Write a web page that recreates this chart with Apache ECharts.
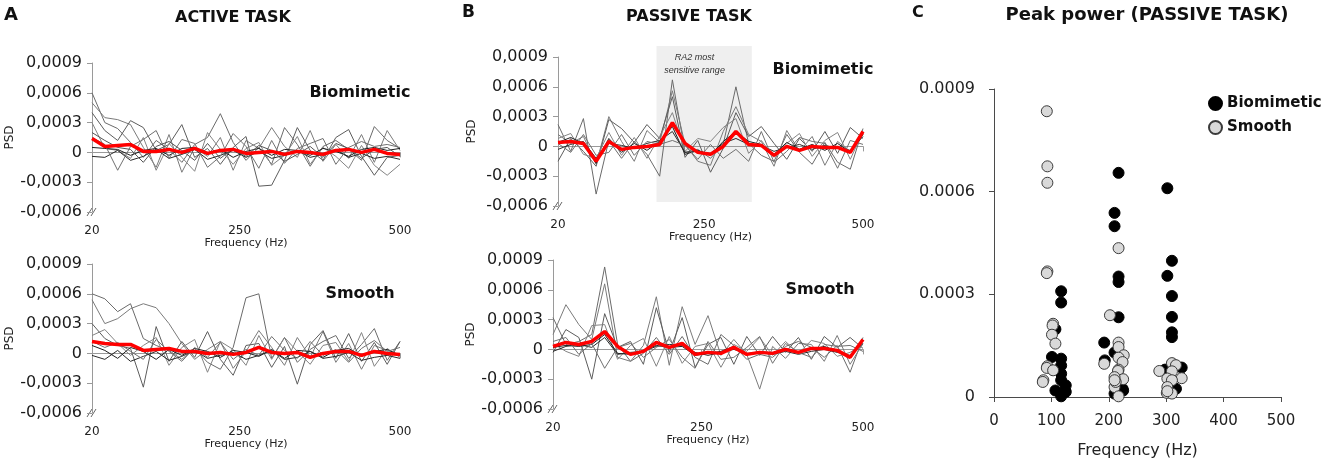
<!doctype html>
<html>
<head>
<meta charset="UTF-8">
<title>PSD active / passive task</title>
<script src="https://cdn.jsdelivr.net/npm/echarts@6/dist/echarts.min.js"></script>
<style>
	html, body { margin: 0; padding: 0; background: #fff; }
	#main { width: 1325px; height: 465px; }
</style>
</head>
<body>
<div id="main"></div>
<script>
	// frequency bins (Hz) shared by the four PSD panels
	var freqHz = [20, 40, 60, 80, 100, 120, 140, 160, 180, 200, 220, 240, 260, 280, 300, 320, 340, 360, 380, 400, 420, 440, 460, 480, 500];

	// all PSD / peak power values are in units of 1e-4
	var activeBioTrials = [
		[6, 3, 2.4, 1, -0.5, 1.2, 0.3, -1, 0.8, 1.5, 3.9, 1, -0.8, 0.5, -1.2, 2.5, 0.8, -1.4, 0.6, 1.2, 0.3, -0.8, 2.6, 1.2, 0.4],
		[5, 3.5, 3.3, 2.8, 0.5, -1.5, 1.8, -2, 0.5, -0.4, 1.5, -1.8, 1.2, 0.4, 2.5, 0.6, -0.5, 2.2, -0.9, 0.8, -0.6, 1.8, -1, 2.2, 0.2],
		[4, 2.2, 1.2, 3.2, 2.5, 0.2, 0.8, 2.8, -0.5, 0.4, -1.2, 0.5, 1.6, -3.4, -3.3, -0.8, 2.5, 0.2, -0.8, 1.5, 2.3, -0.4, -2.3, -0.5, -0.3],
		[3, 0.4, 0.2, -0.6, 1.5, -1.8, 0.9, -0.5, -1.9, 2, 0.3, -1.2, 0.4, 1, -1.3, -0.3, 1.6, -1.2, 0.5, -0.4, -1.6, 0.7, -1.3, -2.3, -1.2],
		[0.5, 0.4, 0.3, -0.3, 0.2, 0.4, -0.3, 0.4, 0.5, -0.2, 0.3, -0.5, 0.1, 0.4, -0.3, 0.3, 0.2, -0.3, 0.4, 0.1, -0.4, 0.3, 0.5, 0.2, 0.4],
		[-0.4, -0.5, 0.2, -0.8, -0.4, 0.3, -0.6, -0.2, 0.3, -0.7, -0.3, 0.2, -0.5, 0.1, -0.6, -0.3, 0.2, -0.5, -0.2, 0.3, -0.5, -0.1, -0.6, -0.4, -0.7],
		[1.5, 0.8, -1.8, 0.6, 1.3, 2.2, -0.6, 1.3, 0.9, -1.5, -0.4, 1.9, 0.6, -1.6, 1.2, -1.1, 0.4, 0.9, 1.4, -1.2, 0.5, 1.1, 0.6, 0.8, 0.5],
		[2, 1.2, 0.5, 0.3, -1, 0.6, 1.1, 0.2, -0.8, 0.9, -0.6, 0.4, -0.4, 0.7, 0.2, -0.9, -0.2, 0.6, -0.5, 0.9, 0.4, -0.6, 0.3, 0.5, -0.4]
	];
	var activeBioMean = [1.4, 0.6, 0.7, 0.8, 0.1, 0.1, 0.3, 0, 0.4, -0.1, 0.2, 0.3, -0.1, 0, 0.1, -0.2, 0.1, 0, -0.2, 0.2, 0.3, 0, 0.3, -0.1, -0.2];

	var activeSmoothTrials = [
		[6, 5.5, 4.2, 5, 1.5, 0.8, 0.3, -0.6, 0.5, -0.9, -1.6, 0.6, 5.6, 6, -0.5, 1.6, -0.9, 0.4, 1.2, 1.8, -0.5, 0.9, 2.5, -0.7, 1.2],
		[5.4, 3, 3.5, 4.5, 5, 4.6, 3, 1, -0.6, 0.4, 1.2, -1.5, 0.2, 2.3, 0.6, -1.2, 1.6, -0.4, 2.2, -0.9, 1, -1.6, 0.8, 0.3, -0.2],
		[3, 1.5, 0.8, 0.5, -3.4, 2.7, -0.8, 1.2, -0.4, 2.2, -0.6, -2.2, 0.8, 1, -1.4, 0.7, -3.1, 0.9, 2.3, -0.5, 2, -0.8, 1.1, -1.1, 1.2],
		[1.8, 2.4, 1, -0.2, 0.8, 1.6, -1.2, 0.6, 1.4, -1.9, 1.2, 0.4, -1.2, 1.8, -0.6, 1.6, 0.2, -1.1, 0.8, 1.1, -0.8, 2.1, -1.3, 0.5, -0.4],
		[0.8, 0.3, -0.5, 0.6, 0.2, -0.6, 0.4, -0.2, 0.5, 0.2, -0.4, 0.3, 0.1, -0.3, 0.4, -0.5, 0.3, 0.2, -0.4, 0.3, 0.5, -0.3, 0.2, 0.4, -0.2],
		[-0.2, -0.6, 0.3, -0.8, -0.3, 0.2, -0.7, -0.3, 0.3, -0.5, -0.2, 0.1, -0.6, -0.2, 0.3, -0.6, -0.4, 0.2, -0.5, -0.3, 0.1, -0.7, -0.4, -0.2, -0.5],
		[1.2, 0.6, 1.1, 0.2, -0.6, 1.4, 0.2, -0.8, 0.6, -0.4, 1.1, -0.6, 0.4, -0.2, 1.7, 0.3, -0.5, 1.2, -0.2, 0.4, -0.9, 0.5, 1.3, 0.2, 0.6]
	];
	var activeSmoothMean = [1.2, 1, 0.9, 0.9, 0.3, 0.4, 0.5, 0.2, 0.2, 0, 0.1, -0.1, 0.1, 0.6, 0.1, 0, 0.1, -0.4, 0, 0.2, 0.2, -0.2, 0.2, 0, -0.1];

	var passiveBioTrials = [
		[2.2, -0.5, 2.8, -4.8, 0.6, -1.2, 0.5, -0.8, -3, 6.7, -0.6, -0.3, -1.2, 0.2, 6, 0.3, -0.9, -1.5, 1.2, -0.6, -1.8, 0.4, -1.6, -2.3, 1.8],
		[1.2, 0.3, 1, -1.8, 3, 0.5, -1.5, 1.6, 0.4, 5.6, 0.2, -1.5, -1.9, 1.5, 4, 1.2, 0.5, -2, 1.6, -0.5, 1, -1.9, 0.5, -0.5, 1.2],
		[-1.5, 0.8, -0.5, -2, 2.7, 1.8, 0.4, 2.2, 0.8, 5, -1.1, 0.6, -2.6, -0.2, 3.4, 1, 2, 0.3, -1.3, 0.8, -0.5, 1.5, -0.7, 1.9, 0.8],
		[0.8, 1.3, -0.8, -1.2, 1.4, -0.9, 0.9, -1.2, 1, 3.4, -0.5, 0.8, 0.5, 1.9, 2.8, -0.7, 0.6, -1.1, 0.3, 1.3, -1, 0.6, 1.4, -1.3, 1.5],
		[0.4, 0.9, 0.3, -1.7, 0.8, -0.6, 0.3, -0.4, 0.5, 2, -0.8, -0.4, -0.9, 0.5, 1.5, 0.5, 0.2, -0.8, 0.4, -0.3, 0.2, -0.4, 0.3, -0.6, 1.2],
		[-0.3, 0.2, 0.5, -1.2, 0.3, 0.1, -0.2, 0.3, 0.6, 1.5, -0.6, -0.5, -0.7, 0.3, 0.8, 0.2, 0.1, -0.5, -0.1, 0.2, -0.3, 0.1, -0.2, -0.4, 1],
		[0.3, -0.6, 1.2, -0.9, -0.6, 1.2, -0.9, 0.5, 0.2, 0.6, 0.1, -1.3, 0.2, -1.2, -0.3, -1.5, 1.5, -1.6, -0.5, 0.9, 0.5, 0.3, -2.2, 0.6, 0.2]
	];
	var passiveBioMean = [0.4, 0.5, 0.3, -1.5, 0.5, -0.3, -0.1, 0, 0.2, 2.4, 0.3, -0.6, -0.8, 0, 1.5, 0.2, 0.1, -0.9, 0, -0.4, 0, -0.1, -0.1, -0.6, 1.5];

	var passiveSmoothTrials = [
		[3.2, 0.5, 0.8, 1.5, 8.3, 0.5, -1.2, -0.4, 1.2, -0.5, 1.3, -0.8, -1.5, 1.5, 0.4, -1, -0.5, -0.8, 0.3, 0.8, 0.2, -0.8, 0.4, -2.3, 1.2],
		[1.5, 4.5, 2.5, 1, 6.6, -0.8, -1.2, 0.4, 5.3, -1.6, 4.3, 0.5, 3.4, -0.6, 1, -0.5, -4, 0.3, -0.9, 0.6, 0.5, -1.2, 1.4, -1.5, 0.6],
		[-0.3, 2, 1.2, -3, 3.6, 0.2, 0.8, -1.5, 4.2, -0.3, 3.2, -1.8, 0.5, 1.2, -1.5, 1.3, -0.6, 1.3, -0.3, 1.2, -1, 1.3, 0.2, 1.2, 0.1],
		[0.6, -0.2, -0.7, 2.4, 2.5, -1, 0.4, 1.1, -1.7, 1.3, -1.4, 0.3, 0.6, -1.8, 0.5, -0.2, 1.2, -0.6, 0.8, -0.4, 0.9, 0.6, -0.7, -0.3, 0.5],
		[0.2, 0.4, 0.3, 0.5, 1.5, -0.4, -0.5, -0.1, 0.4, 0.2, 0.3, -0.6, -0.4, -0.2, 0.3, -0.5, -0.2, -0.4, 0.1, -0.3, 0, 0.3, -0.2, -0.8, 0.9],
		[-0.2, 0.3, 0.5, 0.2, 1.2, -0.5, -0.3, -0.2, 0.3, 0.5, 0.4, -0.3, -0.6, -0.3, 0, -0.4, -0.3, -0.5, -0.2, -0.5, -0.2, 0, -0.3, -0.6, 0.6],
		[0.8, 1.2, -0.5, 0.6, -1.9, 0.2, 0.6, -0.8, 0.2, 1, -0.8, -1.9, 0.8, -1, -0.8, 0.2, 1.3, -1.4, 0.6, -0.3, -0.8, 0.5, 0.3, 0.4, -0.2]
	];
	var passiveSmoothMean = [0.3, 0.7, 0.5, 0.8, 1.8, 0.3, -0.5, -0.2, 0.7, 0.2, 0.6, -0.5, -0.3, -0.4, 0.2, -0.5, -0.3, -0.4, 0, -0.3, 0.1, 0.1, -0.1, -0.8, 1];

	// RA2 most sensitive range (Hz) and box height (1e-4)
	var ra2RangeHz = [175, 325];
	var ra2RangePsd = [-5.6, 10.1];

	// peak power, passive task: [frequency Hz, power 1e-4]
	var peakBio = [
		[117, 3.09], [117, 2.76], [107, 1.98], [101, 1.17], [117, 1.12], [117, 0.92], [117, 0.68], [117, 0.49],
		[125, 0.34], [124, 0.19], [107, 0.19], [117, 0.02], [125, 0.15],
		[217, 6.55], [210, 5.38], [210, 4.99], [217, 3.52], [217, 3.36], [217, 2.33], [192, 1.59], [210, 1.30],
		[193, 1.07], [224, 0.24], [225, 0.19], [210, 0.10],
		[302, 6.1], [310, 3.98], [302, 3.54], [310, 2.95], [310, 2.34], [310, 1.89], [310, 1.75], [298, 0.8],
		[327, 0.86], [317, 0.24]
	];
	var peakSmooth = [
		[92, 8.35], [93, 6.74], [93, 6.26], [93, 3.67], [92, 3.62], [103, 2.14], [102, 2.09], [101, 1.82],
		[107, 1.56], [93, 0.9], [92, 0.85], [103, 0.78], [86, 0.49], [85, 0.44],
		[202, 2.39], [217, 4.35], [217, 1.59], [217, 1.46], [226, 1.22], [217, 1.15], [224, 1.02], [192, 0.97],
		[217, 0.8], [216, 0.76], [225, 0.52], [210, 0.58], [210, 0.29], [212, 0.44], [217, 0.02], [210, 0.49],
		[288, 0.76], [310, 0.99], [317, 0.93], [310, 0.75], [302, 0.54], [327, 0.55], [310, 0.49], [302, 0.29],
		[301, 0.12], [310, 0.1], [302, 0.17]
	];

	var FONT = 'DejaVu Sans';
	var grayCols = ['#6a6a6a', '#7a7a7a', '#5c5c5c', '#838383', '#1e1e1e', '#2a2a2a', '#707070', '#555555'];

	var grids = [
		{ left: 92, top: 63, width: 308, height: 149 },   // A biomimetic
		{ left: 92, top: 264, width: 308, height: 149 },  // A smooth
		{ left: 558, top: 57, width: 305, height: 149 },  // B biomimetic
		{ left: 553, top: 260, width: 310, height: 149 }, // B smooth
		{ left: 994, top: 89, width: 287, height: 308 }   // C
	];

	function psdLabel(v) {
		if (v === 0) return '0';
		return (v / 1e4).toFixed(4).replace('.', ',');
	}

	var xAxes = [], yAxes = [], series = [];
	var psdGaps = [
		{ name: 23, psd: 76 }, { name: 23, psd: 76 }, { name: 24, psd: 80 }, { name: 23, psd: 74 }
	];
	for (var g = 0; g < 4; g++) {
		xAxes.push({
			type: 'value', gridIndex: g, min: 20, max: 500,
			axisLine: { show: true, lineStyle: { color: '#9a9a9a', width: 1 } },
			axisTick: { show: true, customValues: [250, 500], length: 5, lineStyle: { color: '#9a9a9a' } },
			axisLabel: { customValues: [20, 250, 500], fontSize: 12, color: '#222', margin: 13, fontFamily: FONT },
			splitLine: { show: false },
			name: 'Frequency (Hz)', nameLocation: 'middle', nameGap: psdGaps[g].name,
			nameTextStyle: { fontSize: 11, color: '#222', fontFamily: FONT }
		});
		yAxes.push({
			type: 'value', gridIndex: g, min: -6, max: 9, interval: 3,
			axisLine: { show: true, lineStyle: { color: '#9a9a9a', width: 1 } },
			axisTick: { show: true, length: 5, lineStyle: { color: '#9a9a9a' } },
			axisLabel: { formatter: psdLabel, fontSize: 16, color: '#1a1a1a', margin: 10, fontFamily: FONT },
			splitLine: { show: false },
			name: 'PSD', nameLocation: 'middle', nameRotate: 90, nameGap: psdGaps[g].psd,
			nameTextStyle: { fontSize: 12, color: '#222', fontFamily: FONT }
		});
	}

	function addPanel(g, trials, mean) {
		for (var i = 0; i < trials.length; i++) {
			series.push({
				type: 'line', xAxisIndex: g, yAxisIndex: g, silent: true,
				symbol: 'none', z: 2,
				lineStyle: { width: 1, color: grayCols[i % grayCols.length] },
				data: freqHz.map(function (f, k) { return [f, trials[i][k]]; })
			});
		}
		series.push({
			type: 'line', xAxisIndex: g, yAxisIndex: g, silent: true,
			symbol: 'none', z: 3,
			lineStyle: { width: 3.5, color: '#ff0000' },
			data: freqHz.map(function (f, k) { return [f, mean[k]]; })
		});
	}
	addPanel(0, activeBioTrials, activeBioMean);
	addPanel(1, activeSmoothTrials, activeSmoothMean);
	addPanel(2, passiveBioTrials, passiveBioMean);
	addPanel(3, passiveSmoothTrials, passiveSmoothMean);

	// panel C
	xAxes.push({
		type: 'value', gridIndex: 4, min: 0, max: 500, interval: 100,
		axisLine: { show: true, lineStyle: { color: '#4a4a4a', width: 1 } },
		axisTick: { show: true, length: 5, lineStyle: { color: '#4a4a4a' } },
		axisLabel: { fontSize: 15, color: '#222', margin: 17, fontFamily: FONT },
		splitLine: { show: false },
		name: 'Frequency (Hz)', nameLocation: 'middle', nameGap: 46,
		nameTextStyle: { fontSize: 16, color: '#222', fontFamily: FONT }
	});
	yAxes.push({
		type: 'value', gridIndex: 4, min: 0, max: 9, interval: 3,
		axisLine: { show: true, lineStyle: { color: '#4a4a4a', width: 1 } },
		axisTick: { show: true, length: 5, lineStyle: { color: '#4a4a4a' } },
		axisLabel: {
			fontSize: 16, color: '#222', margin: 19, fontFamily: FONT,
			formatter: function (v) { return v === 0 ? '0' : (v / 1e4).toFixed(4); }
		},
		splitLine: { show: false }
	});
	series.push({
		name: 'Biomimetic', type: 'scatter', xAxisIndex: 4, yAxisIndex: 4,
		symbolSize: 11, z: 3,
		itemStyle: { color: '#000', borderColor: '#000', borderWidth: 1, opacity: 1 },
		data: peakBio
	});
	series.push({
		name: 'Smooth', type: 'scatter', xAxisIndex: 4, yAxisIndex: 4,
		symbolSize: 11, z: 4,
		itemStyle: { color: '#d9d9d9', borderColor: '#3a3a3a', borderWidth: 1, opacity: 1 },
		data: peakSmooth
	});

	function txt(id, x, y, text, size, extra) {
		var st = { text: text, fontSize: size, fontWeight: 'bold', fontFamily: FONT, fill: '#111', align: 'center', verticalAlign: 'middle' };
		for (var k in (extra || {})) st[k] = extra[k];
		return { type: 'text', id: id, x: x, y: y, silent: true, style: st };
	}
	var graphics = [
		txt('lA', 4, 15, 'A', 18, { align: 'left' }),
		txt('tA', 233, 18, 'ACTIVE TASK', 16),
		txt('lB', 462, 13, 'B', 17, { align: 'left' }),
		txt('tB', 689, 17, 'PASSIVE TASK', 16),
		txt('lC', 912, 13, 'C', 16, { align: 'left' }),
		txt('tC', 1147, 15, 'Peak power (PASSIVE TASK)', 18),
		txt('sA1', 360, 93, 'Biomimetic', 16),
		txt('sA2', 360, 294, 'Smooth', 16),
		txt('sB1', 823, 70, 'Biomimetic', 16),
		txt('sB2', 820, 290, 'Smooth', 16)
	];
	// axis break marks at the bottom of each PSD y axis
	for (var b = 0; b < 4; b++) {
		var cx = grids[b].left, cy = grids[b].top + grids[b].height;
		for (var s = 0; s < 2; s++) {
			graphics.push({
				type: 'line', id: 'brk' + b + s, silent: true,
				shape: { x1: cx - 5 + s * 4, y1: cy + 4, x2: cx + s * 4, y2: cy - 4 },
				style: { stroke: '#666', lineWidth: 1 }
			});
		}
	}

	var chart = echarts.init(document.getElementById('main'));
	chart.setOption({
		animation: false,
		textStyle: { fontFamily: FONT },
		grid: grids,
		xAxis: xAxes,
		yAxis: yAxes,
		legend: {
			data: ['Biomimetic', 'Smooth'], orient: 'vertical', left: 1203, top: 91,
			icon: 'circle', itemWidth: 13, itemHeight: 13, itemGap: 9,
			textStyle: { fontSize: 15, fontWeight: 'bold', color: '#111', fontFamily: FONT }
		},
		graphic: graphics,
		series: series
	});

	// shaded RA2 range in panel B: it reaches above the axis top, so place it through the axis scales
	var p1 = chart.convertToPixel({ xAxisIndex: 2, yAxisIndex: 2 }, [ra2RangeHz[0], ra2RangePsd[1]]);
	var p2 = chart.convertToPixel({ xAxisIndex: 2, yAxisIndex: 2 }, [ra2RangeHz[1], ra2RangePsd[0]]);
	var midX = p1[0] + (p2[0] - p1[0]) * 0.4;
	chart.setOption({
		graphic: [
			{
				type: 'rect', id: 'ra2box', silent: true, z: -10,
				shape: { x: p1[0], y: p1[1], width: p2[0] - p1[0], height: p2[1] - p1[1] },
				style: { fill: '#efefef' }
			},
			{
				type: 'text', id: 'ra2txt', silent: true, x: midX, y: p1[1] + 5,
				style: {
					text: 'RA2 most\nsensitive range', fontSize: 9, fontStyle: 'italic',
					fontFamily: 'Liberation Sans', lineHeight: 13, fill: '#333',
					align: 'center', verticalAlign: 'top'
				}
			}
		]
	});
</script>
</body>
</html>
